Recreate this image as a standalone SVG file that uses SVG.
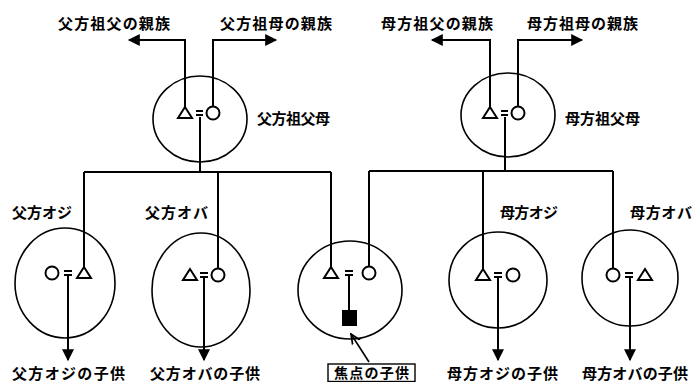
<svg xmlns="http://www.w3.org/2000/svg" width="695" height="382" viewBox="0 0 695 382">
<style>
text{font-family:"Noto Sans CJK JP","Noto Sans",sans-serif;font-size:15px;font-weight:bold;fill:#000}
.ring{fill:none;stroke:#000;stroke-width:1.6}
.sym{fill:#fff;stroke:#000;stroke-width:2}
.eq{stroke:#000;stroke-width:2}
.ln{fill:none;stroke:#000;stroke-width:2}
.arr{fill:none;stroke:#000;stroke-width:2;marker-end:url(#ah)}
</style>
<defs>
<marker id="ah" viewBox="0 0 10 10" refX="9" refY="5" markerWidth="15" markerHeight="12" markerUnits="userSpaceOnUse" orient="auto"><path d="M0,0 L10,5 L0,10z" fill="#000"/></marker>
<marker id="va" viewBox="0 0 10 10" refX="9" refY="5" markerWidth="11" markerHeight="11" markerUnits="userSpaceOnUse" orient="auto"><path d="M0,1 L9,5 L0,9" fill="none" stroke="#000" stroke-width="1.6"/></marker>
</defs>

<g id="connectors">
<path class="arr" d="M185,107 V40 H129"/>
<path class="arr" d="M213,106.5 V40 H276"/>
<path class="ln" d="M200,117 V172"/>
<path class="ln" d="M84,172 H331"/>
<path class="ln" d="M84,172 V267"/>
<path class="ln" d="M218,172 V268.5"/>
<path class="ln" d="M331,172 V267"/>
<path class="arr" d="M490,107 V40 H432"/>
<path class="arr" d="M518,106.5 V40 H582"/>
<path class="ln" d="M505,117 V171"/>
<path class="ln" d="M369,171 H613"/>
<path class="ln" d="M369,171 V266.5"/>
<path class="ln" d="M483,171 V269"/>
<path class="ln" d="M613,171 V268.5"/>
<path class="arr" d="M68,275 V360"/>
<path class="arr" d="M204,277 V360"/>
<path class="arr" d="M498,277 V360"/>
<path class="arr" d="M630,277 V360"/>
<path class="ln" d="M349,276 V310"/>
<path fill="none" stroke="#000" stroke-width="1.6" marker-end="url(#va)" d="M369,362 L351,334"/>
</g>

<g id="paternal-relatives-labels">
<text x="58" y="29" textLength="112">父方祖父の親族</text>
<text x="220" y="29" textLength="112">父方祖母の親族</text>
</g>
<g id="paternal-grandparents">
<ellipse class="ring" cx="200" cy="119" rx="47" ry="43"/>
<polygon class="sym" points="185,107 178,118 192,118"/>
<circle class="sym" cx="213" cy="113" r="6.5"/>
<line class="eq" x1="196" y1="111" x2="203" y2="111"/><line class="eq" x1="196" y1="115" x2="203" y2="115"/>
<text x="257" y="124" textLength="73">父方祖父母</text>
</g>

<g id="maternal-relatives-labels">
<text x="381" y="29" textLength="112">母方祖父の親族</text>
<text x="527" y="29" textLength="111">母方祖母の親族</text>
</g>
<g id="maternal-grandparents">
<ellipse class="ring" cx="508" cy="115" rx="47" ry="42"/>
<polygon class="sym" points="490,107 483,118 497,118"/>
<circle class="sym" cx="518" cy="113" r="6.5"/>
<line class="eq" x1="501" y1="111" x2="508" y2="111"/><line class="eq" x1="501" y1="115" x2="508" y2="115"/>
<text x="565" y="124" textLength="75">母方祖父母</text>
</g>

<g id="paternal-uncle">
<text x="12" y="218" textLength="60">父方オジ</text>
<ellipse class="ring" cx="65" cy="283" rx="50" ry="55"/>
<circle class="sym" cx="52" cy="273" r="6.5"/>
<polygon class="sym" points="84,267 77,278 91,278"/>
<line class="eq" x1="64" y1="271" x2="72" y2="271"/><line class="eq" x1="64" y1="275" x2="72" y2="275"/>
<text x="12" y="379" textLength="113">父方オジの子供</text>
</g>

<g id="paternal-aunt">
<text x="145" y="218" textLength="63">父方オバ</text>
<ellipse class="ring" cx="201" cy="290" rx="49" ry="57"/>
<polygon class="sym" points="190,269 183,280 197,280"/>
<circle class="sym" cx="218" cy="275" r="6.5"/>
<line class="eq" x1="200" y1="273" x2="208" y2="273"/><line class="eq" x1="200" y1="277" x2="208" y2="277"/>
<text x="150" y="379" textLength="110">父方オバの子供</text>
</g>

<g id="parents">
<ellipse class="ring" cx="350" cy="290" rx="52" ry="49"/>
<polygon class="sym" points="331,267 324,278 338,278"/>
<circle class="sym" cx="369" cy="273" r="6.5"/>
<line class="eq" x1="345" y1="271" x2="353" y2="271"/><line class="eq" x1="345" y1="275" x2="353" y2="275"/>
<rect x="342" y="310" width="15" height="16" fill="#000"/>
</g>

<g id="focal-child">
<rect x="328" y="364" width="87" height="17.5" fill="#fff" stroke="#000" stroke-width="1.4"/>
<text x="334" y="378" textLength="75" style="font-size:14px">焦点の子供</text>
</g>

<g id="maternal-uncle">
<text x="500" y="218" textLength="58">母方オジ</text>
<ellipse class="ring" cx="498" cy="280" rx="49" ry="48"/>
<polygon class="sym" points="483,269 476,280 490,280"/>
<circle class="sym" cx="513" cy="275" r="6.5"/>
<line class="eq" x1="494" y1="273" x2="502" y2="273"/><line class="eq" x1="494" y1="277" x2="502" y2="277"/>
<text x="447" y="379" textLength="111">母方オジの子供</text>
</g>

<g id="maternal-aunt">
<text x="630" y="218" textLength="62">母方オバ</text>
<ellipse class="ring" cx="630" cy="278" rx="48" ry="48"/>
<circle class="sym" cx="613" cy="275" r="6.5"/>
<polygon class="sym" points="645,269 638,280 652,280"/>
<line class="eq" x1="625" y1="273" x2="633" y2="273"/><line class="eq" x1="625" y1="277" x2="633" y2="277"/>
<text x="582" y="379" textLength="106">母方オバの子供</text>
</g>
</svg>
